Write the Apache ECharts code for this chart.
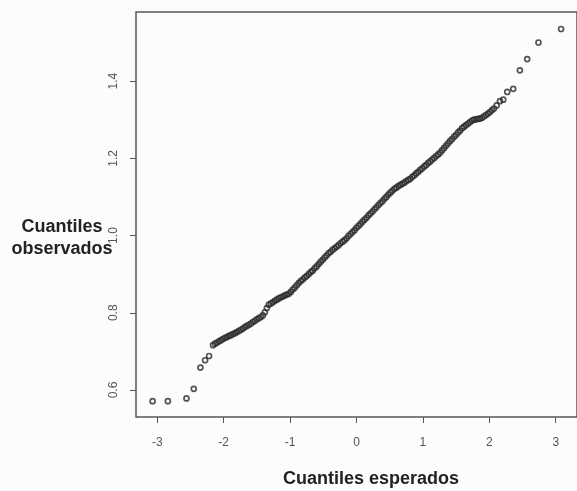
<!DOCTYPE html>
<html>
<head>
<meta charset="utf-8">
<script src="https://cdn.jsdelivr.net/npm/echarts@6/dist/echarts.min.js"></script>
<style>
  html, body { margin: 0; padding: 0; background: #fbfcfe; }
  #chart { width: 577px; height: 491px; }
</style>
</head>
<body>
<div id="chart"></div>
<script>
// Normal Q-Q plot: expected (theoretical) quantiles vs observed sample quantiles
const cuantilesEsperados = [
  -3.07, -2.84, -2.56, -2.45, -2.35, -2.28, -2.22,
  -2.16, -2.13, -2.10, -2.07, -2.04, -2.01, -1.98, -1.95, -1.92, -1.89,
  -1.86, -1.83, -1.80, -1.77, -1.74, -1.71, -1.68, -1.65, -1.62, -1.59,
  -1.56, -1.53, -1.50, -1.47, -1.44, -1.41, -1.38, -1.35, -1.32, -1.29,
  -1.26, -1.23, -1.20, -1.17, -1.14, -1.11, -1.08, -1.05, -1.02, -0.99,
  -0.96, -0.93, -0.90, -0.87, -0.84, -0.81, -0.78, -0.75, -0.72, -0.69,
  -0.66, -0.63, -0.60, -0.57, -0.54, -0.51, -0.48, -0.45, -0.42, -0.39,
  -0.36, -0.33, -0.30, -0.27, -0.24, -0.21, -0.18, -0.15, -0.12, -0.09,
  -0.06, -0.03, 0.00, 0.03, 0.06, 0.09, 0.12, 0.15, 0.18, 0.21,
  0.24, 0.27, 0.30, 0.33, 0.36, 0.39, 0.42, 0.45, 0.48, 0.51,
  0.54, 0.57, 0.60, 0.63, 0.66, 0.69, 0.72, 0.75, 0.78, 0.81,
  0.84, 0.87, 0.90, 0.93, 0.96, 0.99, 1.02, 1.05, 1.08, 1.11,
  1.14, 1.17, 1.20, 1.23, 1.26, 1.29, 1.32, 1.35, 1.38, 1.41,
  1.44, 1.47, 1.50, 1.53, 1.56, 1.59, 1.62, 1.65, 1.68, 1.71,
  1.74, 1.77, 1.80, 1.83, 1.86, 1.89, 1.92, 1.95, 1.98, 2.01,
  2.04, 2.07, 2.11,
  2.16, 2.21, 2.27, 2.36, 2.46, 2.57, 2.74, 3.08
];
const cuantilesObservados = [
  0.571, 0.571, 0.578, 0.603, 0.658, 0.677, 0.688,
  0.716, 0.720, 0.723, 0.726, 0.729, 0.732, 0.735, 0.737, 0.740, 0.742,
  0.745, 0.747, 0.750, 0.753, 0.756, 0.759, 0.763, 0.766, 0.769, 0.772,
  0.776, 0.779, 0.783, 0.786, 0.789, 0.793, 0.801, 0.812, 0.821, 0.824,
  0.827, 0.831, 0.834, 0.837, 0.840, 0.842, 0.845, 0.847, 0.849, 0.854,
  0.860, 0.865, 0.871, 0.877, 0.882, 0.886, 0.891, 0.895, 0.900, 0.905,
  0.909, 0.915, 0.920, 0.926, 0.932, 0.937, 0.943, 0.948, 0.954, 0.958,
  0.963, 0.967, 0.971, 0.975, 0.980, 0.984, 0.988, 0.993, 0.999, 1.004,
  1.009, 1.014, 1.020, 1.025, 1.030, 1.036, 1.041, 1.046, 1.052, 1.057,
  1.062, 1.068, 1.073, 1.079, 1.084, 1.089, 1.095, 1.100, 1.106, 1.111,
  1.116, 1.121, 1.124, 1.128, 1.131, 1.134, 1.137, 1.141, 1.144, 1.147,
  1.152, 1.156, 1.161, 1.165, 1.170, 1.174, 1.179, 1.183, 1.188, 1.192,
  1.197, 1.201, 1.206, 1.210, 1.215, 1.221, 1.227, 1.233, 1.239, 1.245,
  1.250, 1.256, 1.261, 1.267, 1.272, 1.278, 1.282, 1.286, 1.290, 1.294,
  1.298, 1.300, 1.301, 1.302, 1.303, 1.305, 1.309, 1.312, 1.316, 1.320,
  1.325, 1.329, 1.337,
  1.348, 1.352, 1.372, 1.380, 1.428, 1.457, 1.500, 1.535
];
const ticksX = [-3, -2, -1, 0, 1, 2, 3];
const ticksY = [0.6, 0.8, 1.0, 1.2, 1.4];

const puntos = cuantilesEsperados.map((x, i) => [x, cuantilesObservados[i]]);

const chart = echarts.init(document.getElementById('chart'), null, { renderer: 'canvas' });
chart.setOption({
  backgroundColor: '#fbfcfe',
  animation: false,
  grid: {
    left: 136, right: -11, top: 12, bottom: 74,
    show: true, borderColor: '#555', borderWidth: 1.5, backgroundColor: 'transparent'
  },
  xAxis: {
    type: 'value', min: -3.32, max: 3.32,
    axisLine: { show: false, onZero: false },
    splitLine: { show: false },
    axisTick: { show: true, customValues: ticksX, length: 6, lineStyle: { color: '#555', width: 1 } },
    axisLabel: {
      customValues: ticksX, margin: 20, fontSize: 12, color: '#555',
      fontFamily: 'Liberation Sans, Arial, sans-serif',
      formatter: v => String(v)
    }
  },
  yAxis: {
    type: 'value', min: 0.530, max: 1.579,
    axisLine: { show: false, onZero: false },
    splitLine: { show: false },
    axisTick: { show: true, customValues: ticksY, length: 6, lineStyle: { color: '#555', width: 1 } },
    axisLabel: {
      customValues: ticksY, margin: 16, fontSize: 12, color: '#555', rotate: 90,
      fontFamily: 'Liberation Sans, Arial, sans-serif',
      formatter: v => v.toFixed(1)
    }
  },
  graphic: [
    {
      type: 'text', x: 371, y: 470,
      style: {
        text: 'Cuantiles esperados',
        font: 'bold 18px "Liberation Sans", Arial, sans-serif',
        fill: '#222', align: 'center', verticalAlign: 'top'
      }
    },
    {
      type: 'text', x: 62, y: 216,
      style: {
        text: 'Cuantiles\nobservados',
        font: 'bold 18px "Liberation Sans", Arial, sans-serif',
        fill: '#222', align: 'center', verticalAlign: 'top', lineHeight: 22
      }
    }
  ],
  series: [{
    type: 'scatter',
    data: puntos,
    symbol: 'circle',
    symbolSize: 5,
    itemStyle: { color: 'rgba(0,0,0,0)', borderColor: '#2a2a2a', borderWidth: 1.7 },
    silent: true
  }]
});
</script>
</body>
</html>
